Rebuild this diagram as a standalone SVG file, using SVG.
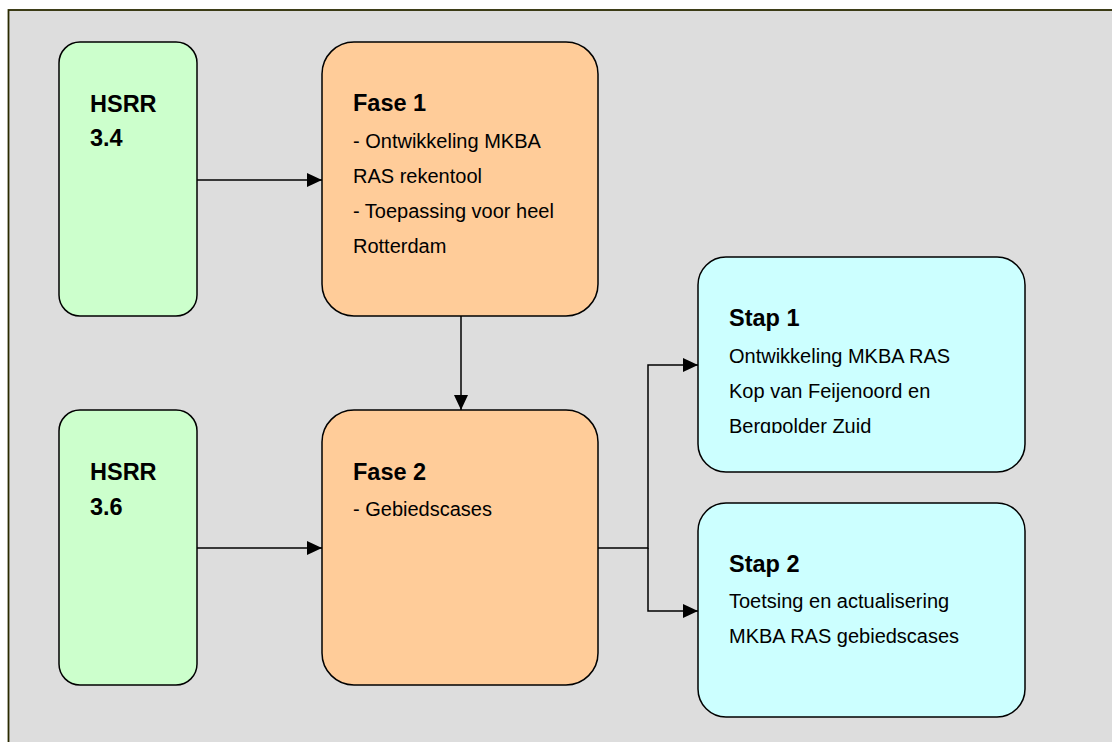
<svg xmlns="http://www.w3.org/2000/svg" width="1112" height="742" viewBox="0 0 1112 742">
<style>
.box{stroke:#000;stroke-width:1.5}
.g{fill:#ccffcc}
.o{fill:#ffcc99}
.c{fill:#ccffff}
.b{font-family:"Liberation Sans",Arial,sans-serif;font-weight:bold;font-size:23.5px;fill:#000}
.t{font-family:"Liberation Sans",Arial,sans-serif;font-size:20px;fill:#000}
.conn{stroke:#000;stroke-width:1.5;fill:none}
</style>
<defs>
<marker id="arr" viewBox="0 0 15 14" refX="15" refY="7" markerWidth="15" markerHeight="14" markerUnits="userSpaceOnUse" orient="auto">
<path d="M0,0 L15,7 L0,14 Z" fill="#000"/>
</marker>
<clipPath id="clipStap1"><rect x="698" y="257" width="327" height="176"/></clipPath>
</defs>
<rect x="0" y="0" width="1112" height="742" fill="#ffffff"/>
<rect x="8.5" y="10" width="1120" height="760" fill="#dddddd" stroke="#2a2a00" stroke-width="1.8"/>
<g id="connectors">
<line class="conn" x1="197" y1="180" x2="322" y2="180" marker-end="url(#arr)"/>
<line class="conn" x1="197" y1="548" x2="322" y2="548" marker-end="url(#arr)"/>
<line class="conn" x1="461" y1="316" x2="461" y2="410" marker-end="url(#arr)"/>
<polyline class="conn" points="598,548 648,548 648,365 698,365" marker-end="url(#arr)"/>
<polyline class="conn" points="648,548 648,611 698,611" marker-end="url(#arr)"/>
</g>
<g id="hsrr34">
<rect class="box g" x="59" y="42" width="138" height="274" rx="21"/>
<text class="b" x="90" y="112">HSRR</text>
<text class="b" x="90" y="146">3.4</text>
</g>
<g id="hsrr36">
<rect class="box g" x="59" y="410" width="138" height="275" rx="21"/>
<text class="b" x="90" y="480">HSRR</text>
<text class="b" x="90" y="515">3.6</text>
</g>
<g id="fase1">
<rect class="box o" x="322" y="42" width="276" height="274" rx="32"/>
<text class="b" x="353" y="111">Fase 1</text>
<text class="t" x="353" y="148">- Ontwikkeling MKBA</text>
<text class="t" x="353" y="183">RAS rekentool</text>
<text class="t" x="353" y="218">- Toepassing voor heel</text>
<text class="t" x="353" y="253">Rotterdam</text>
</g>
<g id="fase2">
<rect class="box o" x="322" y="410" width="276" height="275" rx="32"/>
<text class="b" x="353" y="480">Fase 2</text>
<text class="t" x="353" y="516">- Gebiedscases</text>
</g>
<g id="stap1">
<rect class="box c" x="698" y="257" width="327" height="215" rx="28"/>
<text class="b" x="729" y="326">Stap 1</text>
<text class="t" x="729" y="363">Ontwikkeling MKBA RAS</text>
<text class="t" x="729" y="398">Kop van Feijenoord en</text>
<text class="t" x="729" y="433" clip-path="url(#clipStap1)">Bergpolder Zuid</text>
</g>
<g id="stap2">
<rect class="box c" x="698" y="503" width="327" height="214" rx="28"/>
<text class="b" x="729" y="572">Stap 2</text>
<text class="t" x="729" y="608">Toetsing en actualisering</text>
<text class="t" x="729" y="643">MKBA RAS gebiedscases</text>
</g>
</svg>
